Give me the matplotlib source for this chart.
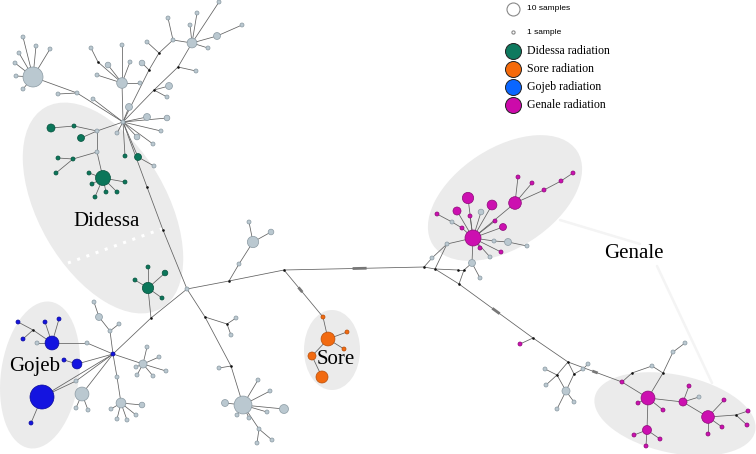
import numpy as np
import matplotlib
matplotlib.use("Agg")
import matplotlib.pyplot as plt
from matplotlib.patches import Ellipse
from matplotlib.collections import LineCollection

# ---------------- data: haplotype nodes (id, x, y, samples) ----------------
gray_nodes = [
    ("A", 123, 122, 1), ("L", 33, 77, 25),
    ("L1", 23, 37, 1), ("L2", 19, 53, 1), ("L3", 15, 63, 1), ("L4", 16, 76, 1),
    ("L5", 23, 89, 1), ("L6", 36, 46, 1), ("L7", 50, 49, 1),
    ("P1", 58, 94, 1), ("P2", 77, 93, 1), ("P3", 93, 99, 1),
    ("M1", 122, 83, 7), ("M1a", 91, 48, 1), ("M1c", 108, 65, 2), ("M1d", 122, 45, 1),
    ("M1e", 130, 62, 1), ("M1f", 140, 83, 1), ("M1g", 97, 75, 1),
    ("U1", 147, 42, 1), ("U2", 142, 63, 2), ("U3", 173, 40, 1), ("M2", 192, 43, 6),
    ("U4", 168, 18, 1), ("U5", 190, 25, 1), ("U6", 197, 13, 1), ("U7", 208, 48, 1),
    ("U8", 217, 36, 3), ("U9", 242, 25, 1), ("U10", 219, 2, 1),
    ("U11", 196, 71, 1), ("U12", 169, 86, 3), ("U13", 167, 97, 1),
    ("A1", 129, 107, 3), ("A2", 147, 117, 3), ("A3", 167, 118, 2), ("A4", 161, 131, 1),
    ("A5", 153, 144, 1), ("A6", 137, 137, 2), ("A7", 117, 133, 1),
    ("DG1", 97, 131, 1), ("DG2", 97, 152, 1), ("DG3", 154, 166, 1),
    ("B", 187, 289, 1),
    ("X1", 239, 264, 1), ("X2", 253, 242, 8), ("X3", 271, 232, 2), ("X4", 249, 222, 1),
    ("Jg1", 87, 343, 1), ("Jg2", 37, 343, 1), ("Gx", 82, 394, 12), ("Gx1", 88, 410, 1),
    ("Gx2", 76, 408, 1), ("Jg3", 76, 381, 1),
    ("Q1", 110, 331, 1), ("Q2", 99, 317, 3), ("Q3", 94, 302, 1), ("Q4", 119, 324, 1),
    ("R", 143, 364, 4), ("R1", 147, 347, 1), ("R2", 159, 357, 1), ("R3", 166, 371, 1),
    ("R4", 153, 376, 1), ("R5", 137, 375, 1), ("R6", 136, 367, 1),
    ("S0", 117, 377, 1), ("S", 121, 403, 6), ("S1", 142, 405, 2), ("S2", 111, 409, 1),
    ("S3", 117, 419, 1), ("S4", 127, 420, 1), ("S5", 136, 415, 1),
    ("T1", 236, 318, 1), ("T2", 231, 335, 1), ("T3", 219, 368, 1),
    ("Kb", 243, 405, 20), ("K1", 225, 403, 3), ("K2", 284, 409, 5), ("K3", 267, 412, 1),
    ("K4", 258, 380, 1), ("K5", 270, 391, 1), ("K6", 237, 415, 1), ("K7", 249, 418, 1),
    ("K8", 259, 429, 1), ("K9", 272, 440, 1), ("K10", 257, 443, 1),
    ("N1", 432, 258, 1), ("N2", 447, 244, 1), ("N3", 452, 222, 1), ("N4", 481, 212, 2),
    ("N5", 494, 241, 1), ("N6", 508, 242, 3), ("N7", 527, 246, 1), ("N8", 490, 257, 1),
    ("N9", 472, 263, 3), ("N10", 480, 278, 1),
    ("V1", 545, 369, 1), ("V2", 546, 385, 1), ("V3", 566, 391, 4), ("V4", 557, 409, 1),
    ("V5", 574, 402, 1), ("V6", 583, 369, 1), ("V7", 588, 364, 1),
    ("W1", 652, 366, 1), ("W2", 673, 352, 1), ("W3", 685, 343, 1), ("W4", 699, 397, 1),
]

median_nodes = [
    ("m1", 98, 62), ("m2", 154, 90), ("m3", 178, 67), ("m4", 149, 70), ("m5", 159, 53),
    ("m6", 147, 187), ("m7", 163, 230), ("ma", 229, 281), ("mb", 284, 270),
    ("mc", 151, 318), ("mj", 33, 330), ("md", 205, 317), ("me", 227, 324),
    ("mf", 231, 366), ("mg", 424, 267), ("mh", 435, 269), ("mi", 458, 270),
    ("mk", 464, 270), ("ml", 459, 284), ("mm", 533, 338), ("mn", 568, 362),
    ("mo", 557, 375), ("mp", 574, 374), ("mq", 632, 373), ("mr", 663, 373), ("ms", 736, 415),
]

didessa_nodes = [
    ("D1", 51, 128, 4), ("D2", 74, 126, 1), ("D3", 81, 138, 3), ("D4", 125, 156, 1),
    ("D5", 138, 157, 3), ("D6", 73, 159, 1), ("D7", 58, 158, 1), ("D8", 56, 173, 1),
    ("DB", 103, 178, 14), ("DB1", 89, 173, 1), ("DB2", 92, 184, 1), ("DB3", 95, 197, 1),
    ("DB4", 106, 192, 1), ("DB5", 117, 192, 1), ("DB6", 125, 182, 1),
    ("Dg", 148, 288, 8), ("Dg1", 148, 267, 1), ("Dg2", 165, 273, 2), ("Dg3", 135, 280, 1),
    ("Dg4", 162, 298, 1),
]

gojeb_nodes = [
    ("Jh", 113, 354, 1), ("JB", 42, 397, 36), ("J2", 52, 343, 12), ("J3", 77, 364, 6),
    ("J4", 18, 322, 1), ("J5", 45, 322, 1), ("J6", 59, 319, 1), ("J7", 23, 339, 1),
    ("J8", 64, 360, 1), ("J9", 31, 423, 1),
]

sore_nodes = [
    ("Sa", 323, 317, 1), ("Sb", 328, 339, 12), ("Sc", 347, 332, 1), ("Sd", 344, 349, 1),
    ("Se", 312, 356, 4), ("Sf", 322, 377, 9),
]

genale_nodes = [
    ("GT", 473, 238, 16), ("G1", 468, 198, 8), ("G2", 457, 211, 4), ("G3", 492, 205, 6),
    ("GH", 515, 203, 10), ("G4", 470, 216, 1), ("G5", 495, 221, 1), ("G6", 503, 227, 3),
    ("G7", 437, 214, 1), ("G8", 462, 228, 1), ("G9", 480, 248, 1), ("G10", 501, 252, 1),
    ("GH1", 518, 177, 1), ("GH2", 532, 183, 1), ("GH3", 544, 190, 1), ("GH4", 561, 181, 1),
    ("GH5", 573, 173, 1), ("G11", 520, 344, 1), ("G12", 622, 382, 1),
    ("H1", 648, 398, 12), ("G13", 638, 403, 1), ("G14", 663, 410, 1), ("H2", 683, 402, 4),
    ("H3", 708, 417, 10), ("H4", 647, 430, 5), ("G18", 689, 386, 1), ("G19", 724, 400, 1),
    ("G20", 722, 427, 1), ("G21", 708, 434, 1), ("G22", 748, 411, 1), ("G23", 747, 425, 1),
    ("G24", 634, 435, 1), ("G25", 660, 439, 1), ("G26", 646, 446, 1),
]

edges = [
    ("L", "L1"), ("L", "L2"), ("L", "L3"), ("L", "L4"), ("L", "L5"), ("L", "L6"), ("L", "L7"),
    ("L", "P2"), ("P2", "P1"), ("P2", "A"), ("P3", "A"),
    ("M1", "A"), ("M1", "m1"), ("m1", "M1a"), ("M1", "M1c"), ("M1", "M1d"), ("M1", "M1e"),
    ("M1", "M1f"), ("M1", "M1g"),
    ("A", "m4"), ("m4", "U2"), ("m4", "m5"), ("m5", "U1"), ("m5", "U3"), ("U3", "M2"),
    ("U3", "U4"), ("M2", "U5"), ("M2", "U6"), ("M2", "U7"), ("M2", "U8"), ("U8", "U9"),
    ("M2", "U10"),
    ("A", "m2"), ("m2", "m3"), ("m3", "M2"), ("m3", "U11"), ("m2", "U12"), ("m2", "U13"),
    ("A", "A1"), ("A", "A2"), ("A", "A3"), ("A", "A4"), ("A", "A5"), ("A", "A6"), ("A", "A7"),
    ("A", "DG1"), ("DG1", "D2"), ("D2", "D1"), ("DG1", "D3"), ("DG1", "DG2"), ("DG2", "D6"),
    ("D6", "D7"), ("D6", "D8"), ("DG2", "DB"),
    ("DB", "DB1"), ("DB", "DB2"), ("DB", "DB3"), ("DB", "DB4"), ("DB", "DB5"), ("DB", "DB6"),
    ("A", "D4"), ("A", "D5"), ("D5", "DG3"),
    ("A", "m6"), ("m6", "m7"), ("m7", "B"),
    ("B", "ma"), ("ma", "mb"), ("ma", "X1"), ("X1", "X2"), ("X2", "X3"), ("X2", "X4"),
    ("B", "mc"), ("mc", "Dg"), ("Dg", "Dg1"), ("Dg", "Dg2"), ("Dg", "Dg3"), ("Dg", "Dg4"),
    ("mc", "Jh"),
    ("Jh", "Jg1"), ("Jg1", "J2"), ("J2", "mj"), ("mj", "J4"), ("mj", "J7"), ("J2", "J5"),
    ("J2", "J6"), ("J2", "Jg2"), ("J3", "Jh"), ("J3", "J8"), ("JB", "Jh"), ("JB", "Jg3"),
    ("Jg3", "Jh"), ("JB", "J9"), ("Gx", "Jh"), ("Gx", "Gx1"), ("Gx", "Gx2"),
    ("Jh", "Q1"), ("Q1", "Q2"), ("Q2", "Q3"), ("Q1", "Q4"),
    ("Jh", "R"), ("R", "R1"), ("R", "R2"), ("R", "R3"), ("R", "R4"), ("R", "R5"), ("R", "R6"),
    ("Jh", "S0"), ("S0", "S"), ("S", "S1"), ("S", "S2"), ("S", "S3"), ("S", "S4"), ("S", "S5"),
    ("B", "md"), ("md", "me"), ("me", "T1"), ("me", "T2"), ("md", "mf"), ("mf", "T3"),
    ("mf", "Kb"), ("Kb", "K1"), ("Kb", "K2"), ("Kb", "K3"), ("Kb", "K4"), ("Kb", "K5"),
    ("Kb", "K6"), ("Kb", "K7"), ("Kb", "K8"), ("K8", "K9"), ("K8", "K10"),
    ("mb", "mg"), ("mb", "Sa"), ("Sa", "Sb"), ("Sb", "Sc"), ("Sb", "Sd"), ("Sb", "Se"),
    ("Se", "Sf"),
    ("mg", "mh"), ("mg", "N1"), ("N1", "N2"), ("N2", "GT"), ("G7", "N3"), ("N3", "G8"),
    ("G8", "GT"), ("mh", "ml"), ("mh", "mi"), ("mi", "mk"), ("mk", "ml"), ("mk", "N9"),
    ("N9", "GT"), ("N9", "N10"), ("mh", "N2"),
    ("GT", "G1"), ("GT", "G2"), ("GT", "G3"), ("GT", "G4"), ("GT", "G5"), ("GT", "G6"),
    ("GT", "GH"), ("GT", "N4"), ("GT", "N5"), ("N5", "N6"), ("N6", "N7"), ("GT", "G9"),
    ("GT", "G10"), ("GT", "N8"),
    ("GH", "GH1"), ("GH", "GH2"), ("GH", "GH3"), ("GH3", "GH4"), ("GH4", "GH5"),
    ("ml", "mm"), ("mm", "G11"), ("mm", "mn"), ("mn", "mo"), ("mn", "mp"), ("mo", "V1"),
    ("mo", "V2"), ("mo", "V3"), ("mp", "V3"), ("V3", "V4"), ("V3", "V5"), ("mp", "V6"),
    ("V6", "V7"), ("mn", "G12"), ("G12", "H1"), ("G12", "mq"), ("mq", "W1"), ("W1", "mr"),
    ("mr", "H1"), ("mr", "W2"), ("W2", "W3"),
    ("H1", "G13"), ("H1", "G14"), ("H1", "H2"), ("H2", "G18"), ("H2", "W4"), ("H2", "H3"),
    ("H3", "G19"), ("H3", "G20"), ("H3", "G21"), ("H3", "ms"), ("ms", "G22"), ("ms", "G23"),
    ("H1", "H4"), ("H4", "G24"), ("H4", "G25"), ("H4", "G26"),
]

# mutation hatch marks: (edge start, edge end, fraction along edge)
hatch_marks = [("mb", "mg", 0.54), ("mb", "Sa", 0.42), ("ml", "mm", 0.5), ("mn", "G12", 0.5)]

# group colours
group_colors = {
    "gray": ("#bac8d0", "#8a99a2"),
    "Didessa": ("#0b765a", "#06513d"),
    "Sore": ("#f26a10", "#b74d08"),
    "Gojeb": ("#1414e0", "#0a0a9a"),
    "Genale": ("#cc10b0", "#8c0a78"),
}

# regions
region_labels = ["Didessa", "Gojeb", "Sore", "Genale"]
region_label_xy = [(107, 222), (35, 367), (336, 360), (634, 253)]
ellipses = [(103, 208, 232, 128, 60), (40, 375, 148, 78, -82), (332, 350, 56, 80, 0),
            (505, 198, 172, 100, -33), (675, 414, 164, 78, 12)]

legend_labels = ["Didessa radiation", "Sore radiation", "Gojeb radiation", "Genale radiation"]
legend_fill = ["#0e7a5f", "#f56a0a", "#0a66ff", "#cc0aaa"]
size_legend_labels = ["10 samples", "1 sample"]
size_legend_n = [10, 1]

# ---------------- drawing ----------------
fig = plt.figure(figsize=(7.56, 4.54), dpi=100)
ax = fig.add_axes([0, 0, 1, 1])
ax.set_xlim(0, 756)
ax.set_ylim(454, 0)
ax.axis("off")


def size_pts(n):
    r_px = 2.0 * np.sqrt(n)
    return (2 * r_px * 0.72) ** 2


pos = {}
for lst in (gray_nodes, didessa_nodes, gojeb_nodes, sore_nodes, genale_nodes):
    for nid, x, y, n in lst:
        pos[nid] = (x, y)
for nid, x, y in median_nodes:
    pos[nid] = (x, y)

# ellipses
for (cx, cy, w, h, ang) in ellipses:
    ax.add_patch(Ellipse((cx, cy), w, h, angle=ang, facecolor="#ebebeb",
                         edgecolor="none", zorder=0))

# connector lines for Genale label
ax.plot([560, 640], [220, 244], color="#f4f4f4", lw=1.8, zorder=0.5, solid_capstyle="round")
ax.plot([657, 712], [266, 383], color="#f4f4f4", lw=1.8, zorder=0.5, solid_capstyle="round")
# dotted white line inside Didessa ellipse
ax.plot([68, 167], [263, 227], color="white", lw=2.2, ls=(0, (1, 2.2)), zorder=0.6)

# edges
segs = [[pos[a], pos[b]] for a, b in edges]
ax.add_collection(LineCollection(segs, colors="#606060", linewidths=0.55, zorder=1))

for a, b, f in hatch_marks:
    (x0, y0), (x1, y1) = pos[a], pos[b]
    xs = [x0 + (x1 - x0) * (f - 0.05), x0 + (x1 - x0) * (f + 0.05)]
    ys = [y0 + (y1 - y0) * (f - 0.05), y0 + (y1 - y0) * (f + 0.05)]
    ax.plot(xs, ys, color="#777777", lw=2.0, zorder=1.2, solid_capstyle="butt")

# region labels
for lab, xy in zip(region_labels, region_label_xy):
    ax.text(xy[0], xy[1], lab, fontsize=15, family="Liberation Serif",
            ha="center", va="center", zorder=4)

# nodes
for lst, grp in ((gray_nodes, "gray"), (didessa_nodes, "Didessa"), (gojeb_nodes, "Gojeb"),
                 (sore_nodes, "Sore"), (genale_nodes, "Genale")):
    xs = [t[1] for t in lst]
    ys = [t[2] for t in lst]
    ss = [size_pts(t[3]) for t in lst]
    fc, ec = group_colors[grp]
    ax.scatter(xs, ys, s=ss, c=fc, edgecolors=ec, linewidths=0.5, zorder=3)
ax.scatter([t[1] for t in median_nodes], [t[2] for t in median_nodes], s=3.5,
           c="#111111", linewidths=0, zorder=3)

# size legend
for i, (lab, n) in enumerate(zip(size_legend_labels, size_legend_n)):
    y = 9 + i * 23
    r = 6.5 if n == 10 else 1.6
    ax.scatter([513], [y], s=(2 * r * 0.72) ** 2, c="white", edgecolors="#888888",
               linewidths=0.8, zorder=3)
    ax.text(527, y, lab, fontsize=6, family="Liberation Sans", va="center", ha="left")

# colour legend
for i, (lab, col) in enumerate(zip(legend_labels, legend_fill)):
    y = 51 + i * 18
    ax.scatter([513], [y], s=(2 * 8 * 0.72) ** 2, c=col, edgecolors="#222222",
               linewidths=0.7, zorder=3)
    ax.text(527, y, lab, fontsize=8.6, family="Liberation Serif", va="center", ha="left")

fig.savefig("out.png", dpi=100)
